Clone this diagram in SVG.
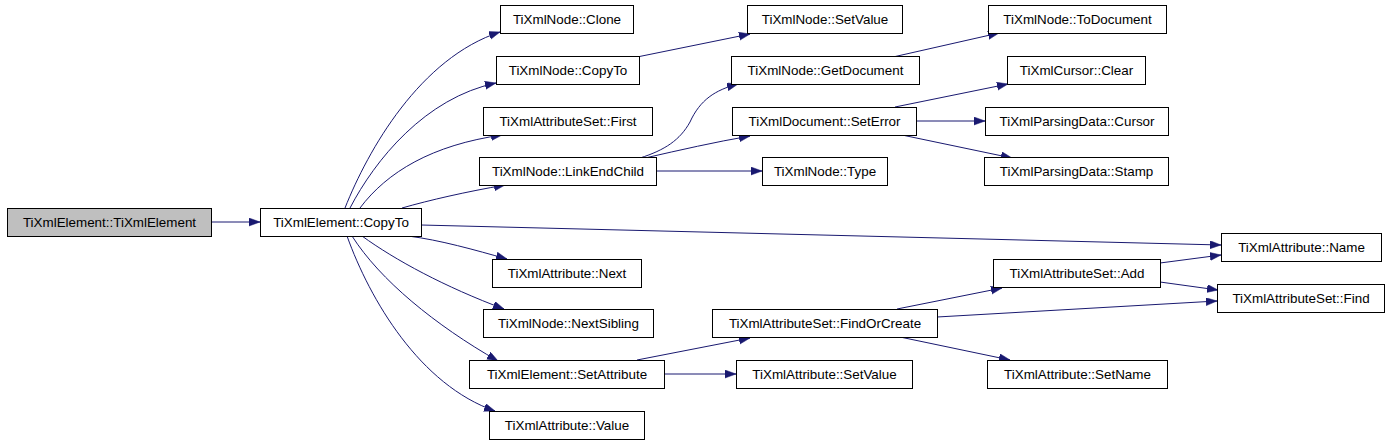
<svg xmlns="http://www.w3.org/2000/svg" width="1389" height="443" viewBox="0 0 1389 443">
<style>
.n rect{fill:#fff;stroke:#000;stroke-width:1}
.n text{font-family:"Liberation Sans",Arial,sans-serif;font-size:13.4px;fill:#000;text-anchor:middle}
.e path{fill:none;stroke:#191970;stroke-width:1;marker-end:url(#a)}
</style>
<defs>
<marker id="a" markerUnits="userSpaceOnUse" markerWidth="13" markerHeight="10" refX="11" refY="4" orient="auto">
<path d="M0,0 L11,4 L0,8 z" fill="#191970" stroke="#191970" stroke-width="0.5"/>
</marker>
</defs>
<rect width="1389" height="443" fill="#fff"/>
<g id="edges" class="e">
<path d="M212,222 L260,222"/>
<path d="M345,208 C368,150 420,58 500,32"/>
<path d="M350,208 C375,160 425,98 496,83"/>
<path d="M360,208 C387,172 432,145 502,135"/>
<path d="M402,208 C430,200 465,192 505,185"/>
<path d="M421,225 L1221,245"/>
<path d="M408,236 C440,240 475,250 507,259"/>
<path d="M362,236 C395,260 445,287 504,309"/>
<path d="M352,236 C380,280 435,325 498,361"/>
<path d="M347,236 C370,300 420,385 495,411"/>
<path d="M637,57 L750,34"/>
<path d="M640,158 C665,150 680,140 690,122 C700,100 715,90 738,84"/>
<path d="M645,158 C680,150 715,142 750,136"/>
<path d="M656,171 L762,171"/>
<path d="M893,57 L999,33"/>
<path d="M895,107 L1008,84"/>
<path d="M916,121 L985,121"/>
<path d="M902,135 L1012,158"/>
<path d="M637,360 L750,338"/>
<path d="M664,374 L736,374"/>
<path d="M897,309 L1002,288"/>
<path d="M937,317 L1217,301"/>
<path d="M900,337 L1010,360"/>
<path d="M1160,263 L1221,255"/>
<path d="M1160,282 L1218,290"/>
</g>
<g id="n0" class="n"><rect x="7.5" y="208.5" width="204" height="28" style="fill:#bfbfbf"/><text x="109.5" y="227">TiXmlElement::TiXmlElement</text></g>
<g id="n1" class="n"><rect x="260.5" y="208.5" width="161" height="28"/><text x="341" y="227">TiXmlElement::CopyTo</text></g>
<g id="n2" class="n"><rect x="500.5" y="5.5" width="133" height="28"/><text x="567" y="24">TiXmlNode::Clone</text></g>
<g id="n3" class="n"><rect x="496.5" y="56.5" width="143" height="28"/><text x="568" y="75">TiXmlNode::CopyTo</text></g>
<g id="n4" class="n"><rect x="483.5" y="107.5" width="169" height="28"/><text x="568" y="126">TiXmlAttributeSet::First</text></g>
<g id="n5" class="n"><rect x="479.5" y="157.5" width="177" height="28"/><text x="568" y="176">TiXmlNode::LinkEndChild</text></g>
<g id="n6" class="n"><rect x="492.5" y="259.5" width="149" height="28"/><text x="567" y="278">TiXmlAttribute::Next</text></g>
<g id="n7" class="n"><rect x="483.5" y="309.5" width="170" height="28"/><text x="568.5" y="328">TiXmlNode::NextSibling</text></g>
<g id="n8" class="n"><rect x="469.5" y="360.5" width="195" height="28"/><text x="567" y="379">TiXmlElement::SetAttribute</text></g>
<g id="n9" class="n"><rect x="489.5" y="411.5" width="155" height="28"/><text x="567" y="430">TiXmlAttribute::Value</text></g>
<g id="n10" class="n"><rect x="747.5" y="5.5" width="155" height="28"/><text x="825" y="24">TiXmlNode::SetValue</text></g>
<g id="n11" class="n"><rect x="731.5" y="56.5" width="188" height="28"/><text x="825.5" y="75">TiXmlNode::GetDocument</text></g>
<g id="n12" class="n"><rect x="732.5" y="107.5" width="184" height="28"/><text x="824.5" y="126">TiXmlDocument::SetError</text></g>
<g id="n13" class="n"><rect x="762.5" y="157.5" width="125" height="28"/><text x="825" y="176">TiXmlNode::Type</text></g>
<g id="n14" class="n"><rect x="712.5" y="309.5" width="225" height="28"/><text x="825" y="328">TiXmlAttributeSet::FindOrCreate</text></g>
<g id="n15" class="n"><rect x="736.5" y="360.5" width="176" height="28"/><text x="824.5" y="379">TiXmlAttribute::SetValue</text></g>
<g id="n16" class="n"><rect x="988.5" y="5.5" width="178" height="28"/><text x="1077.5" y="24">TiXmlNode::ToDocument</text></g>
<g id="n17" class="n"><rect x="1007.5" y="56.5" width="138" height="28"/><text x="1076.5" y="75">TiXmlCursor::Clear</text></g>
<g id="n18" class="n"><rect x="985.5" y="107.5" width="183" height="28"/><text x="1077" y="126">TiXmlParsingData::Cursor</text></g>
<g id="n19" class="n"><rect x="984.5" y="157.5" width="184" height="28"/><text x="1076.5" y="176">TiXmlParsingData::Stamp</text></g>
<g id="n20" class="n"><rect x="993.5" y="259.5" width="167" height="28"/><text x="1077" y="278">TiXmlAttributeSet::Add</text></g>
<g id="n21" class="n"><rect x="987.5" y="360.5" width="180" height="28"/><text x="1077.5" y="379">TiXmlAttribute::SetName</text></g>
<g id="n22" class="n"><rect x="1221.5" y="233.5" width="160" height="28"/><text x="1301.5" y="252">TiXmlAttribute::Name</text></g>
<g id="n23" class="n"><rect x="1217.5" y="284.5" width="167" height="28"/><text x="1301" y="303">TiXmlAttributeSet::Find</text></g>
</svg>
